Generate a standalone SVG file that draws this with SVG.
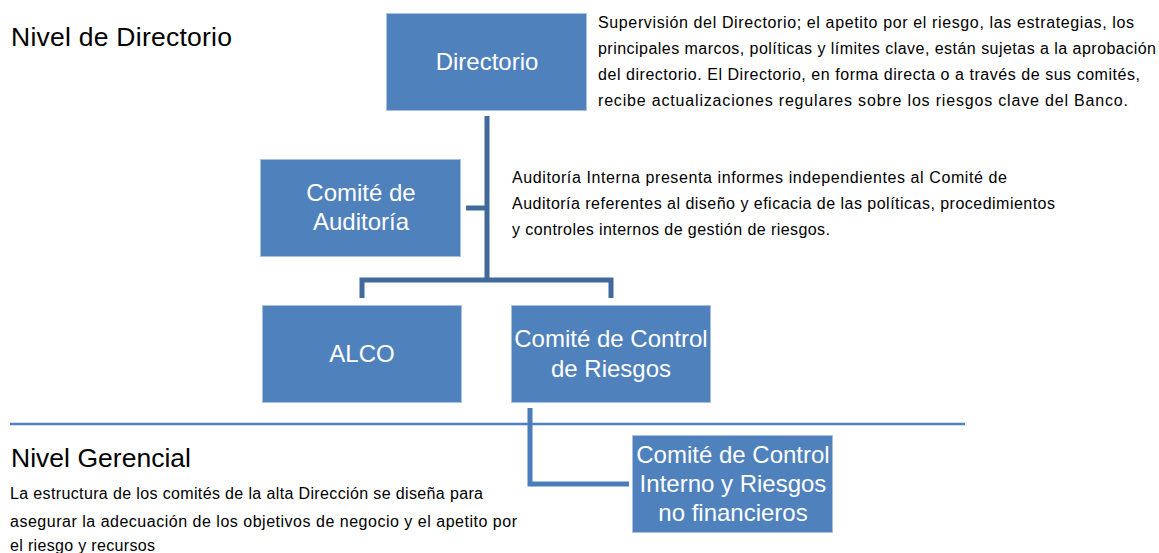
<svg xmlns="http://www.w3.org/2000/svg" width="1159" height="553" viewBox="0 0 1159 553">
<style>
.box{fill:#4F81BD;stroke:#A9C0DF;stroke-width:1}
.bt{font-family:"Liberation Sans",Arial,sans-serif;font-size:24px;fill:#FFFFFF;text-anchor:middle}
.h{font-family:"Liberation Sans",Arial,sans-serif;font-size:26.5px;fill:#000000}
.p{font-family:"Liberation Sans",Arial,sans-serif;font-size:16px;fill:#000000}
.c1{fill:none;stroke:#41699C;stroke-width:5;stroke-linejoin:miter}
.c2{fill:none;stroke:#4A7DBA;stroke-width:5;stroke-linejoin:miter}
</style>
<rect width="1159" height="553" fill="#FFFFFF"/>
<line x1="10" y1="424" x2="965" y2="424" stroke="#4F81BD" stroke-width="2.5"/>
<g id="connectors">
<polyline class="c1" points="487,116 487,280"/>
<polyline class="c1" points="466,208 487,208"/>
<polyline class="c1" points="362,298 362,280 611,280 611,298"/>
<polyline class="c2" points="530,408 530,484 629,484"/>
</g>
<g id="labels">
<text class="h" x="11" y="46" textLength="221" lengthAdjust="spacing">Nivel de Directorio</text>
<text class="h" x="11" y="467" textLength="180" lengthAdjust="spacing">Nivel Gerencial</text>
<text class="p" x="598" y="28" textLength="536" lengthAdjust="spacing">Supervisión del Directorio; el apetito por el riesgo, las estrategias, los</text>
<text class="p" x="598" y="54" textLength="558" lengthAdjust="spacing">principales marcos, políticas y límites clave, están sujetas a la aprobación</text>
<text class="p" x="598" y="80" textLength="542" lengthAdjust="spacing">del directorio. El Directorio, en forma directa o a través de sus comités,</text>
<text class="p" x="598" y="106" textLength="530" lengthAdjust="spacing">recibe actualizaciones regulares sobre los riesgos clave del Banco.</text>
<text class="p" x="512" y="183" textLength="495" lengthAdjust="spacing">Auditoría Interna presenta informes independientes al Comité de</text>
<text class="p" x="512" y="209" textLength="543" lengthAdjust="spacing">Auditoría referentes al diseño y eficacia de las políticas, procedimientos</text>
<text class="p" x="512" y="235" textLength="318" lengthAdjust="spacing">y controles internos de gestión de riesgos.</text>
<text class="p" x="10" y="499" textLength="473" lengthAdjust="spacing">La estructura de los comités de la alta Dirección se diseña para</text>
<text class="p" x="10" y="527" textLength="507" lengthAdjust="spacing">asegurar la adecuación de los objetivos de negocio y el apetito por</text>
<text class="p" x="10" y="551" textLength="145" lengthAdjust="spacing">el riesgo y recursos</text>
</g>
<g id="directorio">
<rect class="box" x="386.5" y="13.5" width="200" height="97"/>
<text class="bt" x="487" y="70">Directorio</text>
</g>
<g id="comite-auditoria">
<rect class="box" x="260.5" y="159.5" width="200" height="97"/>
<text class="bt" x="361" y="201">Comité de</text>
<text class="bt" x="361" y="230">Auditoría</text>
</g>
<g id="alco">
<rect class="box" x="262.5" y="305.5" width="199" height="97"/>
<text class="bt" x="362" y="362">ALCO</text>
</g>
<g id="comite-control-riesgos">
<rect class="box" x="511.5" y="305.5" width="199" height="97"/>
<text class="bt" x="611" y="347">Comité de Control</text>
<text class="bt" x="611" y="377">de Riesgos</text>
</g>
<g id="comite-control-interno">
<rect class="box" x="632.5" y="435.5" width="200" height="97"/>
<text class="bt" x="733" y="463">Comité de Control</text>
<text class="bt" x="733" y="492">Interno y Riesgos</text>
<text class="bt" x="733" y="521">no financieros</text>
</g>
</svg>
